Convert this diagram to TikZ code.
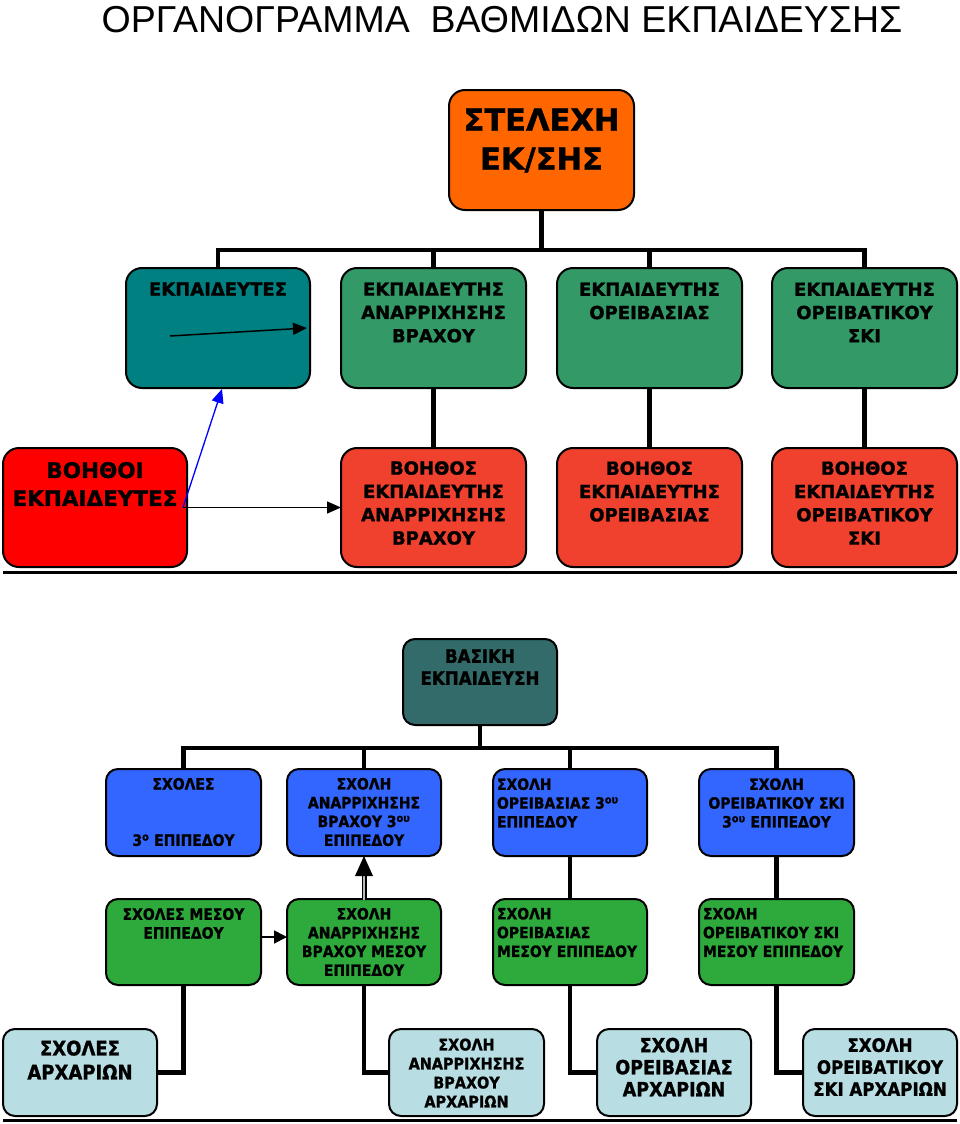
\documentclass[tikz,border=0pt]{standalone}
\usepackage{fontspec}
\setmainfont{DejaVu Sans}
\newfontfamily\titlefont{Liberation Sans}
\newfontfamily\hbf{DejaVu Sans Bold}[FakeBold=1.2]
\newfontfamily\hbn{DejaVu Sans Bold}[FakeBold=1.2, FakeStretch=0.9]
\usetikzlibrary{arrows.meta}
\definecolor{corange}{HTML}{FF6600}
\definecolor{cteal}{HTML}{008080}
\definecolor{cgreen}{HTML}{339966}
\definecolor{cred}{HTML}{FF0000}
\definecolor{cred2}{HTML}{F0402E}
\definecolor{cbasic}{HTML}{336B6B}
\definecolor{cblue}{HTML}{3366FF}
\definecolor{cgreen2}{HTML}{2EAA3C}
\definecolor{clight}{HTML}{B8DEE3}
\begin{document}
\begin{tikzpicture}[x=1pt,y=-1pt,
  box/.style={draw=black, line width=2pt, rounded corners=16pt, inner sep=0pt, outer sep=0pt, anchor=north west},
  sbox/.style={box, rounded corners=12pt},
  txt/.style={inner sep=0pt, outer sep=0pt, align=center, text=black},
  fa/.style={font=\hbf\fontsize{18}{23.3}\selectfont},
  fb/.style={font=\hbn\fontsize{15.5}{18.8}\selectfont},
  conn/.style={line width=4.2pt, line join=miter},
  arr/.style={line width=1.5pt, -{Triangle[length=14pt,width=12pt]}}]
\useasboundingbox (0,0) rectangle (960,1124);
\fill[white] (0,0) rectangle (960,1124);

% title
\node[txt, anchor=base, font=\titlefont\fontsize{37.5}{40}\selectfont] (title) at (502,33) {ΟΡΓΑΝΟΓΡΑΜΜΑ\ \ ΒΑΘΜΙΔΩΝ ΕΚΠΑΙΔΕΥΣΗΣ};

% boxes
\node[box, fill=corange, minimum width=185, minimum height=120] (top) at (449,90) {};
\node[box, fill=cteal, minimum width=184, minimum height=120] (e1) at (126,268) {};
\node[box, fill=cgreen, minimum width=185, minimum height=120] (e2) at (341,268) {};
\node[box, fill=cgreen, minimum width=185, minimum height=120] (e3) at (557,268) {};
\node[box, fill=cgreen, minimum width=185, minimum height=120] (e4) at (772,268) {};
\node[box, fill=cred, minimum width=184, minimum height=119] (r1) at (3,448) {};
\node[box, fill=cred2, minimum width=185, minimum height=119] (r2) at (341,448) {};
\node[box, fill=cred2, minimum width=185, minimum height=119] (r3) at (557,448) {};
\node[box, fill=cred2, minimum width=185, minimum height=119] (r4) at (772,448) {};
\node[sbox, fill=cbasic, minimum width=154, minimum height=86] (bas) at (403,639) {};
\node[sbox, fill=cblue, minimum width=155, minimum height=87] (b1) at (106,769) {};
\node[sbox, fill=cblue, minimum width=154, minimum height=87] (b2) at (287,769) {};
\node[sbox, fill=cblue, minimum width=154, minimum height=87] (b3) at (493,769) {};
\node[sbox, fill=cblue, minimum width=155, minimum height=87] (b4) at (699,769) {};
\node[sbox, fill=cgreen2, minimum width=155, minimum height=86] (g1) at (106,899) {};
\node[sbox, fill=cgreen2, minimum width=154, minimum height=86] (g2) at (287,899) {};
\node[sbox, fill=cgreen2, minimum width=154, minimum height=86] (g3) at (493,899) {};
\node[sbox, fill=cgreen2, minimum width=155, minimum height=86] (g4) at (699,899) {};
\node[sbox, fill=clight, minimum width=154, minimum height=87] (a1) at (3,1029) {};
\node[sbox, fill=clight, minimum width=155, minimum height=87] (a2) at (389,1029) {};
\node[sbox, fill=clight, minimum width=154, minimum height=87] (a3) at (597,1029) {};
\node[sbox, fill=clight, minimum width=154, minimum height=87] (a4) at (803,1029) {};

% texts
\node[txt, font=\hbf\fontsize{30.5}{39}\selectfont] (ttop) at (541.5,140.5) {ΣΤΕΛΕΧΗ\\ΕΚ/ΣΗΣ};
\node[txt, fa] (te1) at (218,289) {ΕΚΠΑΙΔΕΥΤΕΣ};
\node[txt, fa] (te2) at (433.5,312.5) {ΕΚΠΑΙΔΕΥΤΗΣ\\ΑΝΑΡΡΙΧΗΣΗΣ\\ΒΡΑΧΟΥ};
\node[txt, fa] (te3) at (649.5,301) {ΕΚΠΑΙΔΕΥΤΗΣ\\ΟΡΕΙΒΑΣΙΑΣ};
\node[txt, fa] (te4) at (864.5,312.5) {ΕΚΠΑΙΔΕΥΤΗΣ\\ΟΡΕΙΒΑΤΙΚΟΥ\\ΣΚΙ};
\node[txt, font=\hbf\fontsize{21.5}{28}\selectfont] (tr1) at (95,484) {ΒΟΗΘΟΙ\\ΕΚΠΑΙΔΕΥΤΕΣ};
\node[txt, fa] (tr2) at (433.5,503) {ΒΟΗΘΟΣ\\ΕΚΠΑΙΔΕΥΤΗΣ\\ΑΝΑΡΡΙΧΗΣΗΣ\\ΒΡΑΧΟΥ};
\node[txt, fa] (tr3) at (649.5,491.5) {ΒΟΗΘΟΣ\\ΕΚΠΑΙΔΕΥΤΗΣ\\ΟΡΕΙΒΑΣΙΑΣ};
\node[txt, fa] (tr4) at (864.5,503) {ΒΟΗΘΟΣ\\ΕΚΠΑΙΔΕΥΤΗΣ\\ΟΡΕΙΒΑΤΙΚΟΥ\\ΣΚΙ};
\node[txt, font=\hbn\fontsize{18.5}{22}\selectfont] (tbas) at (480,667) {ΒΑΣΙΚΗ\\ΕΚΠΑΙΔΕΥΣΗ};
\node[txt, fb] (tb1) at (183.5,812) {ΣΧΟΛΕΣ\\[37.5pt]3\textsuperscript{ο} ΕΠΙΠΕΔΟΥ};
\node[txt, fb] (tb2) at (364,812) {ΣΧΟΛΗ\\ΑΝΑΡΡΙΧΗΣΗΣ\\ΒΡΑΧΟΥ 3\textsuperscript{ου}\\ΕΠΙΠΕΔΟΥ};
\node[txt, fb, anchor=west, align=left] (tb3) at (497,803) {ΣΧΟΛΗ\\ΟΡΕΙΒΑΣΙΑΣ 3\textsuperscript{ου}\\ΕΠΙΠΕΔΟΥ};
\node[txt, fb] (tb4) at (776.5,803) {ΣΧΟΛΗ\\ΟΡΕΙΒΑΤΙΚΟΥ ΣΚΙ\\3\textsuperscript{ου} ΕΠΙΠΕΔΟΥ};
\node[txt, fb] (tg1) at (183.5,923.5) {ΣΧΟΛΕΣ ΜΕΣΟΥ\\ΕΠΙΠΕΔΟΥ};
\node[txt, fb] (tg2) at (364,942) {ΣΧΟΛΗ\\ΑΝΑΡΡΙΧΗΣΗΣ\\ΒΡΑΧΟΥ ΜΕΣΟΥ\\ΕΠΙΠΕΔΟΥ};
\node[txt, fb, anchor=west, align=left] (tg3) at (497,932.5) {ΣΧΟΛΗ\\ΟΡΕΙΒΑΣΙΑΣ\\ΜΕΣΟΥ ΕΠΙΠΕΔΟΥ};
\node[txt, fb, anchor=west, align=left] (tg4) at (703,932.5) {ΣΧΟΛΗ\\ΟΡΕΙΒΑΤΙΚΟΥ ΣΚΙ\\ΜΕΣΟΥ ΕΠΙΠΕΔΟΥ};
\node[txt, font=\hbn\fontsize{20}{24}\selectfont] (ta1) at (80,1060) {ΣΧΟΛΕΣ\\ΑΡΧΑΡΙΩΝ};
\node[txt, font=\hbn\fontsize{16}{19}\selectfont] (ta2) at (466.5,1073) {ΣΧΟΛΗ\\ΑΝΑΡΡΙΧΗΣΗΣ\\ΒΡΑΧΟΥ\\ΑΡΧΑΡΙΩΝ};
\node[txt, font=\hbn\fontsize{19.5}{22}\selectfont] (ta3) at (674,1067) {ΣΧΟΛΗ\\ΟΡΕΙΒΑΣΙΑΣ\\ΑΡΧΑΡΙΩΝ};
\node[txt, font=\hbn\fontsize{18.5}{22}\selectfont] (ta4) at (880,1067) {ΣΧΟΛΗ\\ΟΡΕΙΒΑΤΙΚΟΥ\\ΣΚΙ ΑΡΧΑΡΙΩΝ};

% tree connectors
\coordinate (lev1) at (0,250);
\draw[conn] (top.south) -- (top.south |- lev1);
\draw[conn] (e1.north) |- (e4.north |- lev1) -- (e4.north);
\draw[conn] (e2.north) -- (e2.north |- lev1);
\draw[conn] (e3.north) -- (e3.north |- lev1);
\draw[conn] (e2.south) -- (r2.north);
\draw[conn] (e3.south) -- (r3.north);
\draw[conn] (e4.south) -- (r4.north);

\coordinate (lev2) at (0,748);
\draw[conn] (bas.south) -- (bas.south |- lev2);
\draw[conn] (b1.north) |- (b4.north |- lev2) -- (b4.north);
\draw[conn] (b2.north) -- (b2.north |- lev2);
\draw[conn] (b3.north) -- (b3.north |- lev2);
\draw[conn] (b3.south) -- (g3.north);
\draw[conn] (b4.south) -- (g4.north);
\draw[conn] (g1.south) |- (a1.east);
\draw[conn] (g2.south) |- (a2.west);
\draw[conn] (g3.south) |- (a3.west);
\draw[conn] (g4.south) |- (a4.west);

% arrows
\coordinate (ia) at (170,336);
\coordinate (ib) at (307,328);
\draw[arr] (ia) -- (ib);
\coordinate (bs) at (183,507.5);
\coordinate (bt) at (222,389);
\draw[arr, draw=blue, fill=blue, line width=1.3pt] (bs) -- (bt);
\draw[arr] (bs) -- (r2.west);
\draw[line width=1.8pt, -{Triangle[length=13pt,width=13pt]}] ([yshift=5pt]g1.east) -- ([yshift=5pt]g2.west);
\draw[line width=5pt] (g2.north) -- ([yshift=-18pt]b2.south);
\draw[line width=2pt, gray!55] ([yshift=-1pt]g2.north) -- ([yshift=-18pt]b2.south);
\fill[black] (b2.south) -- ++(-9,20) -- ++(18,0) -- cycle;

% rules
\coordinate (ra) at (3,572);
\coordinate (rb) at (957,572);
\coordinate (rc) at (3,1120);
\coordinate (rd) at (957,1120);
\draw[line width=3pt] (ra) -- (rb);
\draw[line width=3pt] (rc) -- (rd);
\end{tikzpicture}
\end{document}
